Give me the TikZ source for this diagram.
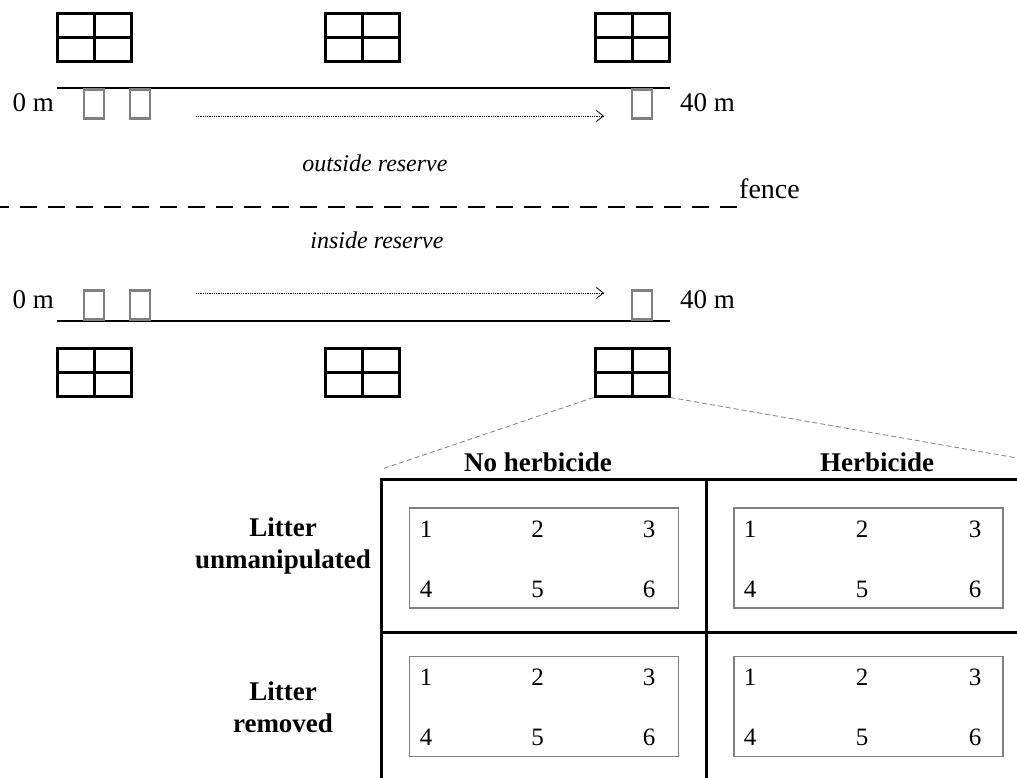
\documentclass[tikz,border=0pt]{standalone}
\usepackage{fontspec}
\setmainfont{Liberation Serif}
\usetikzlibrary{arrows.meta}
\begin{document}
\begin{tikzpicture}[x=1pt,y=-1pt,
  plotbox/.style={draw=black,line width=3pt,minimum width=74pt,minimum height=48pt,inner sep=0pt},
  quad/.style={draw=black!50,line width=2.6pt,minimum width=20pt,minimum height=29pt,inner sep=0pt},
  transect/.style={line width=2pt},
  dotarrow/.style={line width=0.9pt,dash pattern=on 0.9pt off 0.9pt,-{Straight Barb[length=7pt,width=11pt,line width=0.8pt]}},
  lab/.style={font=\fontsize{27}{30}\selectfont,inner sep=0pt},
  itlab/.style={font=\fontsize{24}{28}\selectfont\itshape,inner sep=0pt},
  head/.style={font=\fontsize{27}{32}\selectfont\bfseries,inner sep=0pt,align=center},
  num/.style={font=\fontsize{25}{28}\selectfont,inner sep=0pt},
  subplot/.style={draw=black!50,line width=1.2pt,minimum width=269pt,minimum height=100pt,inner sep=0pt},
  grid/.style={line width=3pt},
  zoomline/.style={draw=black!45,line width=0.9pt,dash pattern=on 5pt off 3pt}
]
\useasboundingbox (0,0) rectangle (1017,778);

% ---------- top (outside reserve) ----------
\foreach \n/\x in {a/94,b/362,c/632}{
  \node[plotbox] (T\n) at (\x,38) {};
  \draw[line width=3pt] (T\n.north) -- (T\n.south) (T\n.west) -- (T\n.east);
}
\coordinate (TL) at (57,88);
\coordinate (TR) at (670,88);
\draw[transect] (TL) -- (TR);
\node[quad,anchor=north] (tq1) at (94,88) {};
\node[quad,anchor=north] (tq2) at (140,88) {};
\node[quad,anchor=north] (tq3) at (642,88) {};
\node[lab,anchor=east] (t0) at (54,103) {0 m};
\node[lab,anchor=west] (t40) at (680,103) {40 m};
\coordinate (tas) at (196,116);
\coordinate (tae) at (604,116);
\draw[dotarrow] (tas) -- (tae);

\node[itlab] (out) at (375,163) {outside reserve};
\coordinate (fs) at (0,207);
\coordinate (fe) at (737,207);
\draw[line width=2.8pt,dash pattern=on 17pt off 11pt,dash phase=8pt] (fs) -- (fe);
\node[lab,anchor=base west,font=\fontsize{28}{30}\selectfont] (fence) at (739,199) {fence};
\node[itlab] (in) at (377,240) {inside reserve};

% ---------- bottom (inside reserve) ----------
\coordinate (BL) at (57,321);
\coordinate (BR) at (670,321);
\draw[transect] (BL) -- (BR);
\node[quad,anchor=south] (bq1) at (94,321) {};
\node[quad,anchor=south] (bq2) at (140,321) {};
\node[quad,anchor=south] (bq3) at (642,321) {};
\node[lab,anchor=east] (b0) at (54,300) {0 m};
\node[lab,anchor=west] (b40) at (680,300) {40 m};
\coordinate (bas) at (196,293);
\coordinate (bae) at (604,293);
\draw[dotarrow] (bas) -- (bae);
\foreach \n/\x in {a/94,b/362,c/632}{
  \node[plotbox] (B\n) at (\x,372) {};
  \draw[line width=3pt] (B\n.north) -- (B\n.south) (B\n.west) -- (B\n.east);
}

% ---------- zoom lines ----------
\coordinate (zl) at (382,469);
\coordinate (zr) at (1017,458);
\draw[zoomline] (Bc.south west) -- (zl);
\draw[zoomline] (Bc.south east) -- (zr);

% ---------- table ----------
\node[head] (h1) at (538,462) {No herbicide};
\node[head] (h2) at (877,462) {Herbicide};
\node[head] (r1) at (283,546) {Litter\\unmanipulated};
\node[head] (r2) at (283,707) {Litter\\removed};

\coordinate (gTL) at (381.5,479);
\coordinate (gTR) at (1017,479);
\coordinate (gBL) at (381.5,778);
\coordinate (gTM) at (706,479);
\coordinate (gBM) at (706,778);
\coordinate (gML) at (381.5,632);
\coordinate (gMR) at (1017,632);
\draw[grid] (gTR) -- (gTL) -- (gBL);
\draw[grid] (gTM) -- (gBM);
\draw[grid] (gML) -- (gMR);

\foreach \c/\cx/\xa/\xb/\xc in {1/544/426/537.5/649, 2/868.5/750/862/975}{
  \foreach \r/\ry/\ya/\yb in {1/558/529/589, 2/706.5/677/737}{
    \node[subplot] (s\r\c) at (\cx,\ry) {};
    \node[num] (n\r\c a) at (\xa,\ya) {1};
    \node[num] (n\r\c b) at (\xb,\ya) {2};
    \node[num] (n\r\c c) at (\xc,\ya) {3};
    \node[num] (n\r\c d) at (\xa,\yb) {4};
    \node[num] (n\r\c e) at (\xb,\yb) {5};
    \node[num] (n\r\c f) at (\xc,\yb) {6};
  }
}
\end{tikzpicture}
\end{document}
